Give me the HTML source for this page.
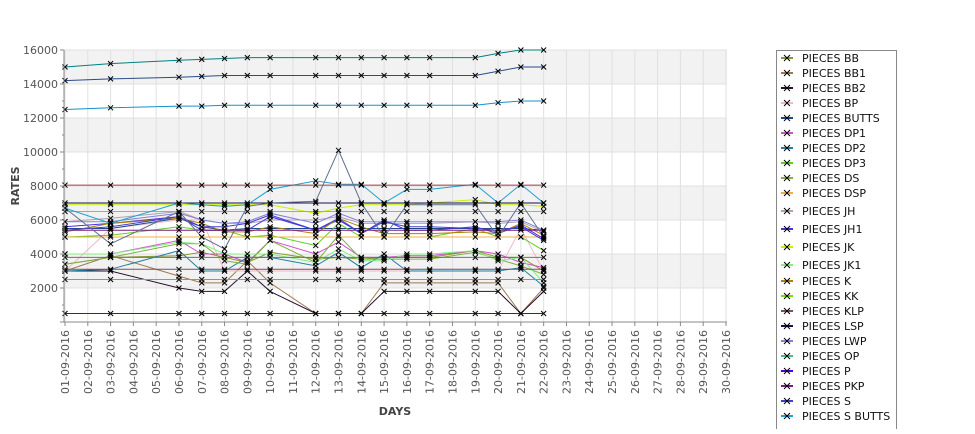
<!DOCTYPE html>
<html><head><meta charset="utf-8"><style>
body{margin:0;background:#fff;font-family:"Liberation Sans","DejaVu Sans",sans-serif;}
svg text{font-family:"DejaVu Sans","Liberation Sans",sans-serif;}
</style></head><body>
<svg id="chart" width="975" height="429" xmlns="http://www.w3.org/2000/svg">
<g id="bands"></g><g id="grid"></g><g id="series"></g><g id="axes"></g><g id="legend"></g>
</svg>
<script>
const dayLabels=[];for(let d=1;d<=30;d++){dayLabels.push((d<10?'0':'')+d+'-09-2016');}
const yTicks=[2000,4000,6000,8000,10000,12000,14000,16000];
const days=[1,3,6,7,8,9,10,12,13,14,15,16,17,19,20,21,22];
const seriesNames=["PIECES BB","PIECES BB1","PIECES BB2","PIECES BP","PIECES BUTTS","PIECES DP1","PIECES DP2","PIECES DP3","PIECES DS","PIECES DSP","PIECES JH","PIECES JH1","PIECES JK","PIECES JK1","PIECES K","PIECES KK","PIECES KLP","PIECES LSP","PIECES LWP","PIECES OP","PIECES P","PIECES PKP","PIECES S","PIECES S BUTTS","TOP A","TOP B","TOP C","RED","GRAY","SPIKE"];
const seriesColors=["#8a9a2a","#a07850","#2a1030","#f0b8c8","#1a4a8a","#d050d0","#2080a0","#60d020","#80b040","#f0b040","#b0a0b0","#4a30e0","#c8f000","#80f080","#b08000","#70e000","#7a5060","#1a1050","#8080e0","#40c080","#5000e0","#7a1a7a","#4040d0","#20a0d0","#008080","#2a4a8a","#1890d0","#a04050","#707070","#607090"];
const seriesValues=[
[3400,3800,3900,4100,3800,3500,4100,3700,3800,3700,3800,3800,3800,4200,3800,3800,3000],
[3000,3900,2700,2300,2300,3600,2300,500,500,500,2300,2300,2300,2300,2300,500,2000],
[3000,3000,2000,1800,1800,3000,1800,500,500,500,1800,1800,1800,1800,1800,500,1800],
[3000,5500,6000,6000,3000,3000,3000,3000,3000,3000,3000,3000,3000,3000,3000,5500,3000],
[5500,5500,6100,5600,5400,5500,5500,5500,5500,5500,5500,5500,5500,5500,5500,5500,5400],
[4000,4000,4800,4000,4000,3500,4800,4000,4700,3800,3800,3900,3900,4200,4000,3500,3200],
[3000,3100,4200,3000,3000,3800,3800,3300,4100,3200,4000,3000,3000,3000,3000,3200,2100],
[5000,5100,5600,5400,5400,5000,5100,4500,5800,5000,5000,5000,5000,5500,5000,5000,4200],
[3400,3800,4600,4600,3600,3400,4800,3500,5100,3700,3700,3700,3700,4100,3700,3300,2800],
[5000,5000,5000,5000,5000,5000,5000,5000,5000,5000,5000,5000,5000,5000,5000,5000,5000],
[5900,6100,6500,6000,5800,5800,6000,6000,6200,5800,5800,5800,5800,5900,5800,5900,5300],
[5600,5800,6200,5400,5400,5400,6200,5400,6000,5200,6000,5400,5400,5600,5200,5700,4900],
[6900,6900,6900,6900,6900,6900,6900,6400,6700,6900,6900,6900,7000,7200,6900,6900,6800],
[4000,4000,4700,4600,4000,4000,4000,3500,4300,3600,3600,4000,4000,4200,3600,3800,2300],
[5300,5800,6100,5800,5300,5300,5600,5200,6100,5600,5200,5200,5200,5300,5200,5800,5100],
[6500,6500,6500,6500,6500,6500,6500,6500,6500,6500,6500,6500,6500,6500,6500,6500,6500],
[3100,3100,3100,3100,3100,3100,3100,3100,3100,3100,3100,3100,3100,3100,3100,3100,3100],
[7000,7000,7000,7000,7000,7000,7000,7000,7000,7000,7000,7000,7000,7000,7000,7000,7000],
[5900,5900,6400,6000,5800,5900,6400,5800,6400,5900,5900,5900,5900,5900,5900,6000,5400],
[2500,2500,2500,2500,2500,2500,2500,2500,2500,2500,2500,2500,2500,2500,2500,2500,2500],
[500,500,500,500,500,500,500,500,500,500,500,500,500,500,500,500,500],
[5400,5400,5400,5400,5400,5400,5400,5400,5400,5400,5400,5400,5400,5400,5400,5400,5400],
[5400,5600,6200,5600,5600,5800,6300,5400,6100,5200,5900,5600,5600,5500,5400,5600,4800],
[6700,5800,7000,6900,6800,6900,7800,8300,8100,8100,7000,7800,7800,8100,7000,8100,7000],
[15000,15200,15400,15450,15500,15550,15550,15550,15550,15550,15550,15550,15550,15550,15800,16000,16000],
[14200,14300,14400,14450,14500,14500,14500,14500,14500,14500,14500,14500,14500,14500,14750,15000,15000],
[12500,12600,12700,12700,12750,12750,12750,12750,12750,12750,12750,12750,12750,12750,12900,13000,13000],
[8050,8050,8050,8050,8050,8050,8050,8050,8050,8050,8050,8050,8050,8050,8050,8050,8050],
[3800,3800,3800,3800,3800,3800,3800,3800,3800,3800,3800,3800,3800,3800,3800,3800,3800],
[6700,4600,6500,5000,4300,6800,7000,7100,10100,7000,5000,6900,6900,6900,5000,7000,5000]
];
const NS='http://www.w3.org/2000/svg';
const L=64,R=727,T=50,B=322;
function xs(d){return 65+(d-1)*(726-65)/29;}
function ys(v){return 322-v*(272/16000);}
function mk(tag,attrs,parent){const e=document.createElementNS(NS,tag);for(const k in attrs)e.setAttribute(k,attrs[k]);parent.appendChild(e);return e;}
const bands=document.getElementById('bands'),grid=document.getElementById('grid'),ser=document.getElementById('series'),axes=document.getElementById('axes'),leg=document.getElementById('legend');
[[2000,4000],[6000,8000],[10000,12000],[14000,16000]].forEach(b=>{
 const r=mk('rect',{x:L,y:ys(b[1]),width:R-L,height:ys(b[0])-ys(b[1]),fill:'#f2f2f2'},bands);
 
 
});
yTicks.forEach(v=>{
 const l=mk('line',{x1:L,x2:R,y1:ys(v),y2:ys(v),stroke:'#e0e0e0','stroke-width':1},grid);
 
 
 const t=mk('line',{x1:L-4,x2:L,y1:ys(v),y2:ys(v),stroke:'#888'},axes);
 
 
 const tx=mk('text',{x:L-6,y:ys(v)+4,'text-anchor':'end','font-size':11,fill:'#555'},axes);
 tx.textContent=v;
 
 
});
[1000,3000,5000,7000,9000,11000,13000,15000].forEach(v=>{
 const t=mk('line',{x1:L-2,x2:L,y1:ys(v),y2:ys(v),stroke:'#888'},axes);
 
 
});
dayLabels.forEach((lab,i)=>{
 const x=xs(i+1);
 const g=mk('line',{x1:x,x2:x,y1:T,y2:B,stroke:'#e0e0e0'},grid);
 
 
 const t=mk('line',{x1:x,x2:x,y1:B,y2:B+4,stroke:'#888'},axes);
 
 
 const tx=mk('text',{x:0,y:0,'text-anchor':'end','font-size':11,fill:'#555',transform:'translate('+(x+4)+','+(B+8)+') rotate(-90)'},axes);
 tx.textContent=lab;
 
 
});
const ax1=mk('line',{x1:L,x2:L,y1:T,y2:B,stroke:'#888'},axes);


const ax2=mk('line',{x1:L-4,x2:R,y1:B,y2:B,stroke:'#888'},axes);


const yt=mk('text',{x:0,y:0,'text-anchor':'middle','font-size':11,'font-weight':'bold',fill:'#444',transform:'translate(19,186) rotate(-90)'},axes);
yt.textContent='RATES';


const xt=mk('text',{x:395,y:415,'text-anchor':'middle','font-size':11,'font-weight':'bold',fill:'#444'},axes);
xt.textContent='DAYS';


seriesValues.forEach((vals,si)=>{
 const pts=vals.map((v,i)=>xs(days[i])+','+ys(v)).join(' ');
 const pl=mk('polyline',{points:pts,fill:'none',stroke:seriesColors[si],'stroke-width':1},ser);
 
 
});
seriesValues.forEach((vals,si)=>{
 vals.forEach((v,i)=>{
  const x=xs(days[i]),y=ys(v);
  const p=mk('path',{d:'M'+(x-2.5)+' '+(y-2.5)+'L'+(x+2.5)+' '+(y+2.5)+'M'+(x-2.5)+' '+(y+2.5)+'L'+(x+2.5)+' '+(y-2.5),stroke:'#000','stroke-width':1},ser);
  
  
 });
});
const lb=mk('rect',{x:776.5,y:50.5,width:120,height:390,fill:'#fff',stroke:'#888'},leg);


const legY=[58,73,88,103,118,133,148,163,178,193,211,229,247,265,281,296,311,326,341,356,371,386,401,416];
for(let i=0;i<24;i++){
 const y=legY[i];
 const g=mk('g',{},leg);
 
 
 mk('line',{x1:781,x2:793,y1:y,y2:y,stroke:seriesColors[i],'stroke-width':2},g);
 mk('path',{d:'M784 '+(y-3)+'L790 '+(y+3)+'M784 '+(y+3)+'L790 '+(y-3),stroke:'#000'},g);
 const t=mk('text',{x:802,y:y+4,'font-size':11,fill:'#111'},g);
 t.textContent=seriesNames[i];
}
</script>
</body></html>
